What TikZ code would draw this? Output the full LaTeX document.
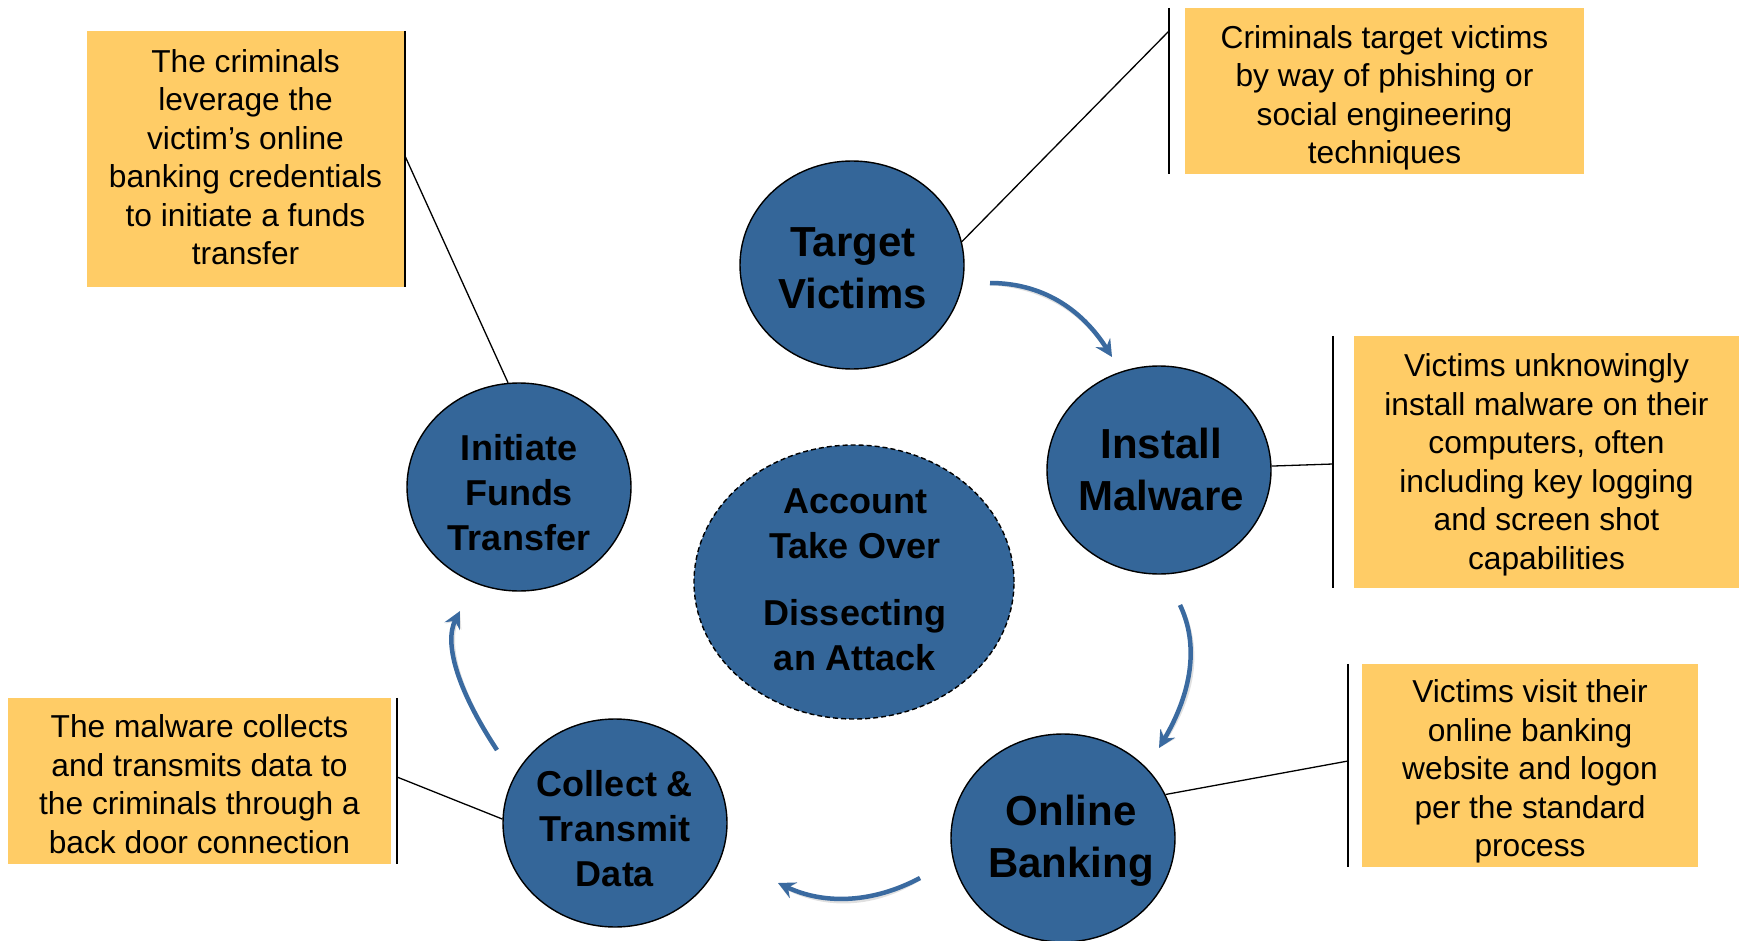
\documentclass[tikz,border=0pt]{standalone}
\usepackage{fontspec}
\setmainfont{Liberation Sans}
\usetikzlibrary{shapes.geometric,arrows.meta}
\definecolor{stepblue}{RGB}{52,102,153}
\definecolor{flowblue}{RGB}{58,106,160}
\definecolor{noteyellow}{RGB}{255,204,102}

\begin{document}
\begin{tikzpicture}[x=1pt,y=-1pt,
  stage/.style={ellipse, draw=black, line width=1.4pt, fill=stepblue,
    minimum width=224pt, minimum height=208pt, inner sep=0pt},
  hub/.style={stage, dash pattern=on 5pt off 3pt,
    minimum width=320pt, minimum height=274pt},
  biglabel/.style={font=\bfseries\fontsize{42}{52}\selectfont, align=center, inner sep=0pt},
  midlabel/.style={font=\bfseries\fontsize{36}{45}\selectfont, align=center, inner sep=0pt},
  note/.style={fill=noteyellow, inner sep=0pt},
  notetext/.style={inner sep=0pt, align=center, font=\fontsize{31.7}{38.5}\selectfont},
  bar/.style={line width=2pt, black},
  leader/.style={line width=1.3pt, black},
  flow/.style={line width=4.5pt, flowblue, -{Stealth[length=17pt,width=17pt,inset=6pt]}},
  flowshade/.style={line width=4.5pt, black, opacity=0.12, -{Stealth[length=17pt,width=17pt,inset=6pt]}},
]
\useasboundingbox (0,0) rectangle (1742,941);

% ---- cycle stages ----
\node[stage] (tv) at (852,265) {};
\node[stage] (im) at (1159,470) {};
\node[stage] (ob) at (1063,838) {};
\node[stage] (ct) at (615,823) {};
\node[stage] (ift) at (519,487) {};
\node[hub]   (hub) at (854,582) {};

\node[biglabel] at (853,268) {Target\\Victims};
\node[biglabel] at (1161,469) {Install\\Malware};
\node[biglabel] at (1071,841) {Online\\Banking};
\node[midlabel] at (615,829) {Collect \&\\Transmit\\Data};
\node[midlabel] at (519,493) {Initiate\\Funds\\Transfer};
\node[midlabel] at (855,580) {Account\\Take Over\\[22pt]Dissecting\\an Attack};

% ---- callout notes ----
\node[note, minimum width=317pt, minimum height=256pt] (n1) at (245.5,159) {};
\node[note, minimum width=399pt, minimum height=166pt] (n2) at (1384.5,91) {};
\node[note, minimum width=385pt, minimum height=252pt] (n3) at (1546.5,462) {};
\node[note, minimum width=336pt, minimum height=203pt] (n4) at (1530,765.5) {};
\node[note, minimum width=383pt, minimum height=166pt] (n5) at (199.5,781) {};

\node[notetext] at ([yshift=2pt]n1.center)
  {The criminals\\leverage the\\victim’s online\\banking credentials\\to initiate a funds\\transfer};
\node[notetext] at ([yshift=-7pt]n2.center)
  {Criminals target victims\\by way of phishing or\\social engineering\\techniques};
\node[notetext] at ([yshift=-3pt]n3.center)
  {Victims unknowingly\\install malware on their\\computers, often\\including key logging\\and screen shot\\capabilities};
\node[notetext] at ([yshift=-6pt]n4.center)
  {Victims visit their\\online banking\\website and logon\\per the standard\\process};
\node[notetext] at ([yshift=-3pt]n5.center)
  {The malware collects\\and transmits data to\\the criminals through a\\back door connection};

% accent bars beside the notes
\draw[bar] ([xshift=1pt]n1.north east) -- ([xshift=1pt]n1.south east);
\draw[bar] ([xshift=-16pt]n2.north west) -- ([xshift=-16pt]n2.south west);
\draw[bar] ([xshift=-21pt]n3.north west) -- ([xshift=-21pt]n3.south west);
\draw[bar] ([xshift=-14pt]n4.north west) -- ([xshift=-14pt]n4.south west);
\draw[bar] ([xshift=6pt]n5.north east) -- ([xshift=6pt]n5.south east);

% leader lines from the bars to the stages
\coordinate (k1) at (405,156);
\coordinate (k2) at (1169,31);
\coordinate (k3) at (1333,464);
\coordinate (k4) at (1348,761);
\coordinate (k5) at (397,777);
\draw[leader] (k1) -- (ift.96);
\draw[leader] (k2) -- (tv.12);
\draw[leader] (k3) -- (im.2);
\draw[leader] (k4) -- (ob.23);
\draw[leader] (k5) -- (ct.178);

% ---- cycle arrows ----
\coordinate (a1s) at (990,283);   \coordinate (a1e) at (1112,357);
\coordinate (a2s) at (1180,605);  \coordinate (a2e) at (1159,748);
\coordinate (a3s) at (920,878);   \coordinate (a3e) at (778,883);
\coordinate (a4s) at (497,750);   \coordinate (a4e) at (460,611);

\begin{scope}[shift={(2,3)}]
\draw[flowshade] (a1s) .. controls (1041,283) and (1081,308) .. (a1e);
\draw[flowshade] (a2s) .. controls (1199,645) and (1192,692) .. (a2e);
\draw[flowshade] (a3s) .. controls (873,903) and (825,905) .. (a3e);
\draw[flowshade] (a4s) .. controls (456,688) and (444,642) .. (a4e);
\end{scope}
\draw[flow] (a1s) .. controls (1041,283) and (1081,308) .. (a1e);
\draw[flow] (a2s) .. controls (1199,645) and (1192,692) .. (a2e);
\draw[flow] (a3s) .. controls (873,903) and (825,905) .. (a3e);
\draw[flow] (a4s) .. controls (456,688) and (444,642) .. (a4e);
\end{tikzpicture}
\end{document}
